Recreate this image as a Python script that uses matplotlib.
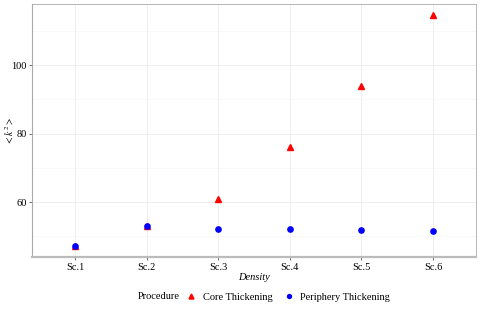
import matplotlib
matplotlib.use('Agg')
import matplotlib.pyplot as plt
from matplotlib.ticker import MultipleLocator

scenarios = ['Sc.1', 'Sc.2', 'Sc.3', 'Sc.4', 'Sc.5', 'Sc.6']
core = [47.3, 53.0, 60.9, 76.0, 94.0, 114.7]
periphery = [47.3, 52.9, 52.3, 52.1, 51.8, 51.5]

plt.rcParams['font.family'] = ['Liberation Serif', 'DejaVu Serif']
plt.rcParams['mathtext.fontset'] = 'stix'

fig = plt.figure(figsize=(4.8, 3.2), dpi=100)
ax = fig.add_axes([0.0667, 0.197, 0.925, 0.7905])

x = list(range(1, len(scenarios) + 1))
ax.plot(x, core, linestyle='none', marker='^', color='#ff0000', markersize=4.8,
        label='Core Thickening', zorder=3)
ax.plot(x, periphery, linestyle='none', marker='o', color='#0000ff', markersize=3.8,
        label='Periphery Thickening', zorder=4)

ax.set_xlim(0.4, 6.6)
ax.set_ylim(44.0, 117.8)
ax.set_xticks(x)
ax.set_xticklabels(scenarios)
ax.yaxis.set_major_locator(MultipleLocator(20))
ax.yaxis.set_minor_locator(MultipleLocator(10))
ax.grid(True, which='major', color='#ebebeb', linewidth=0.6)
ax.grid(True, which='minor', axis='y', color='#f4f4f4', linewidth=0.4)
ax.set_axisbelow(True)
ax.tick_params(which='minor', length=0)
ax.tick_params(which='major', length=2.5, width=0.5, color='#333333',
               labelsize=7.5, pad=1.5, labelcolor='black')

for side in ['top', 'right']:
    ax.spines[side].set_color('#aaaaaa')
    ax.spines[side].set_linewidth(0.6)
ax.spines['left'].set_color('#aaaaaa')
ax.spines['left'].set_linewidth(0.8)
ax.spines['bottom'].set_color('#bbbbbb')
ax.spines['bottom'].set_linewidth(1.6)

ax.set_xlabel('Density', fontstyle='italic', fontsize=7.5, labelpad=1)
ax.set_ylabel(r'$<k^2>$', fontsize=7, va='center')
ax.yaxis.set_label_coords(-0.05, 0.5)

fig.text(0.287, 0.072, 'Procedure', fontsize=7.5, ha='left', va='center')
fig.legend(loc='center left', bbox_to_anchor=(0.385, 0.072), ncol=2, frameon=False,
           fontsize=7.5, handletextpad=0.5, columnspacing=1.0, handlelength=1.2,
           markerscale=0.75, borderaxespad=0, borderpad=0)

fig.savefig('out.png', dpi=100)
